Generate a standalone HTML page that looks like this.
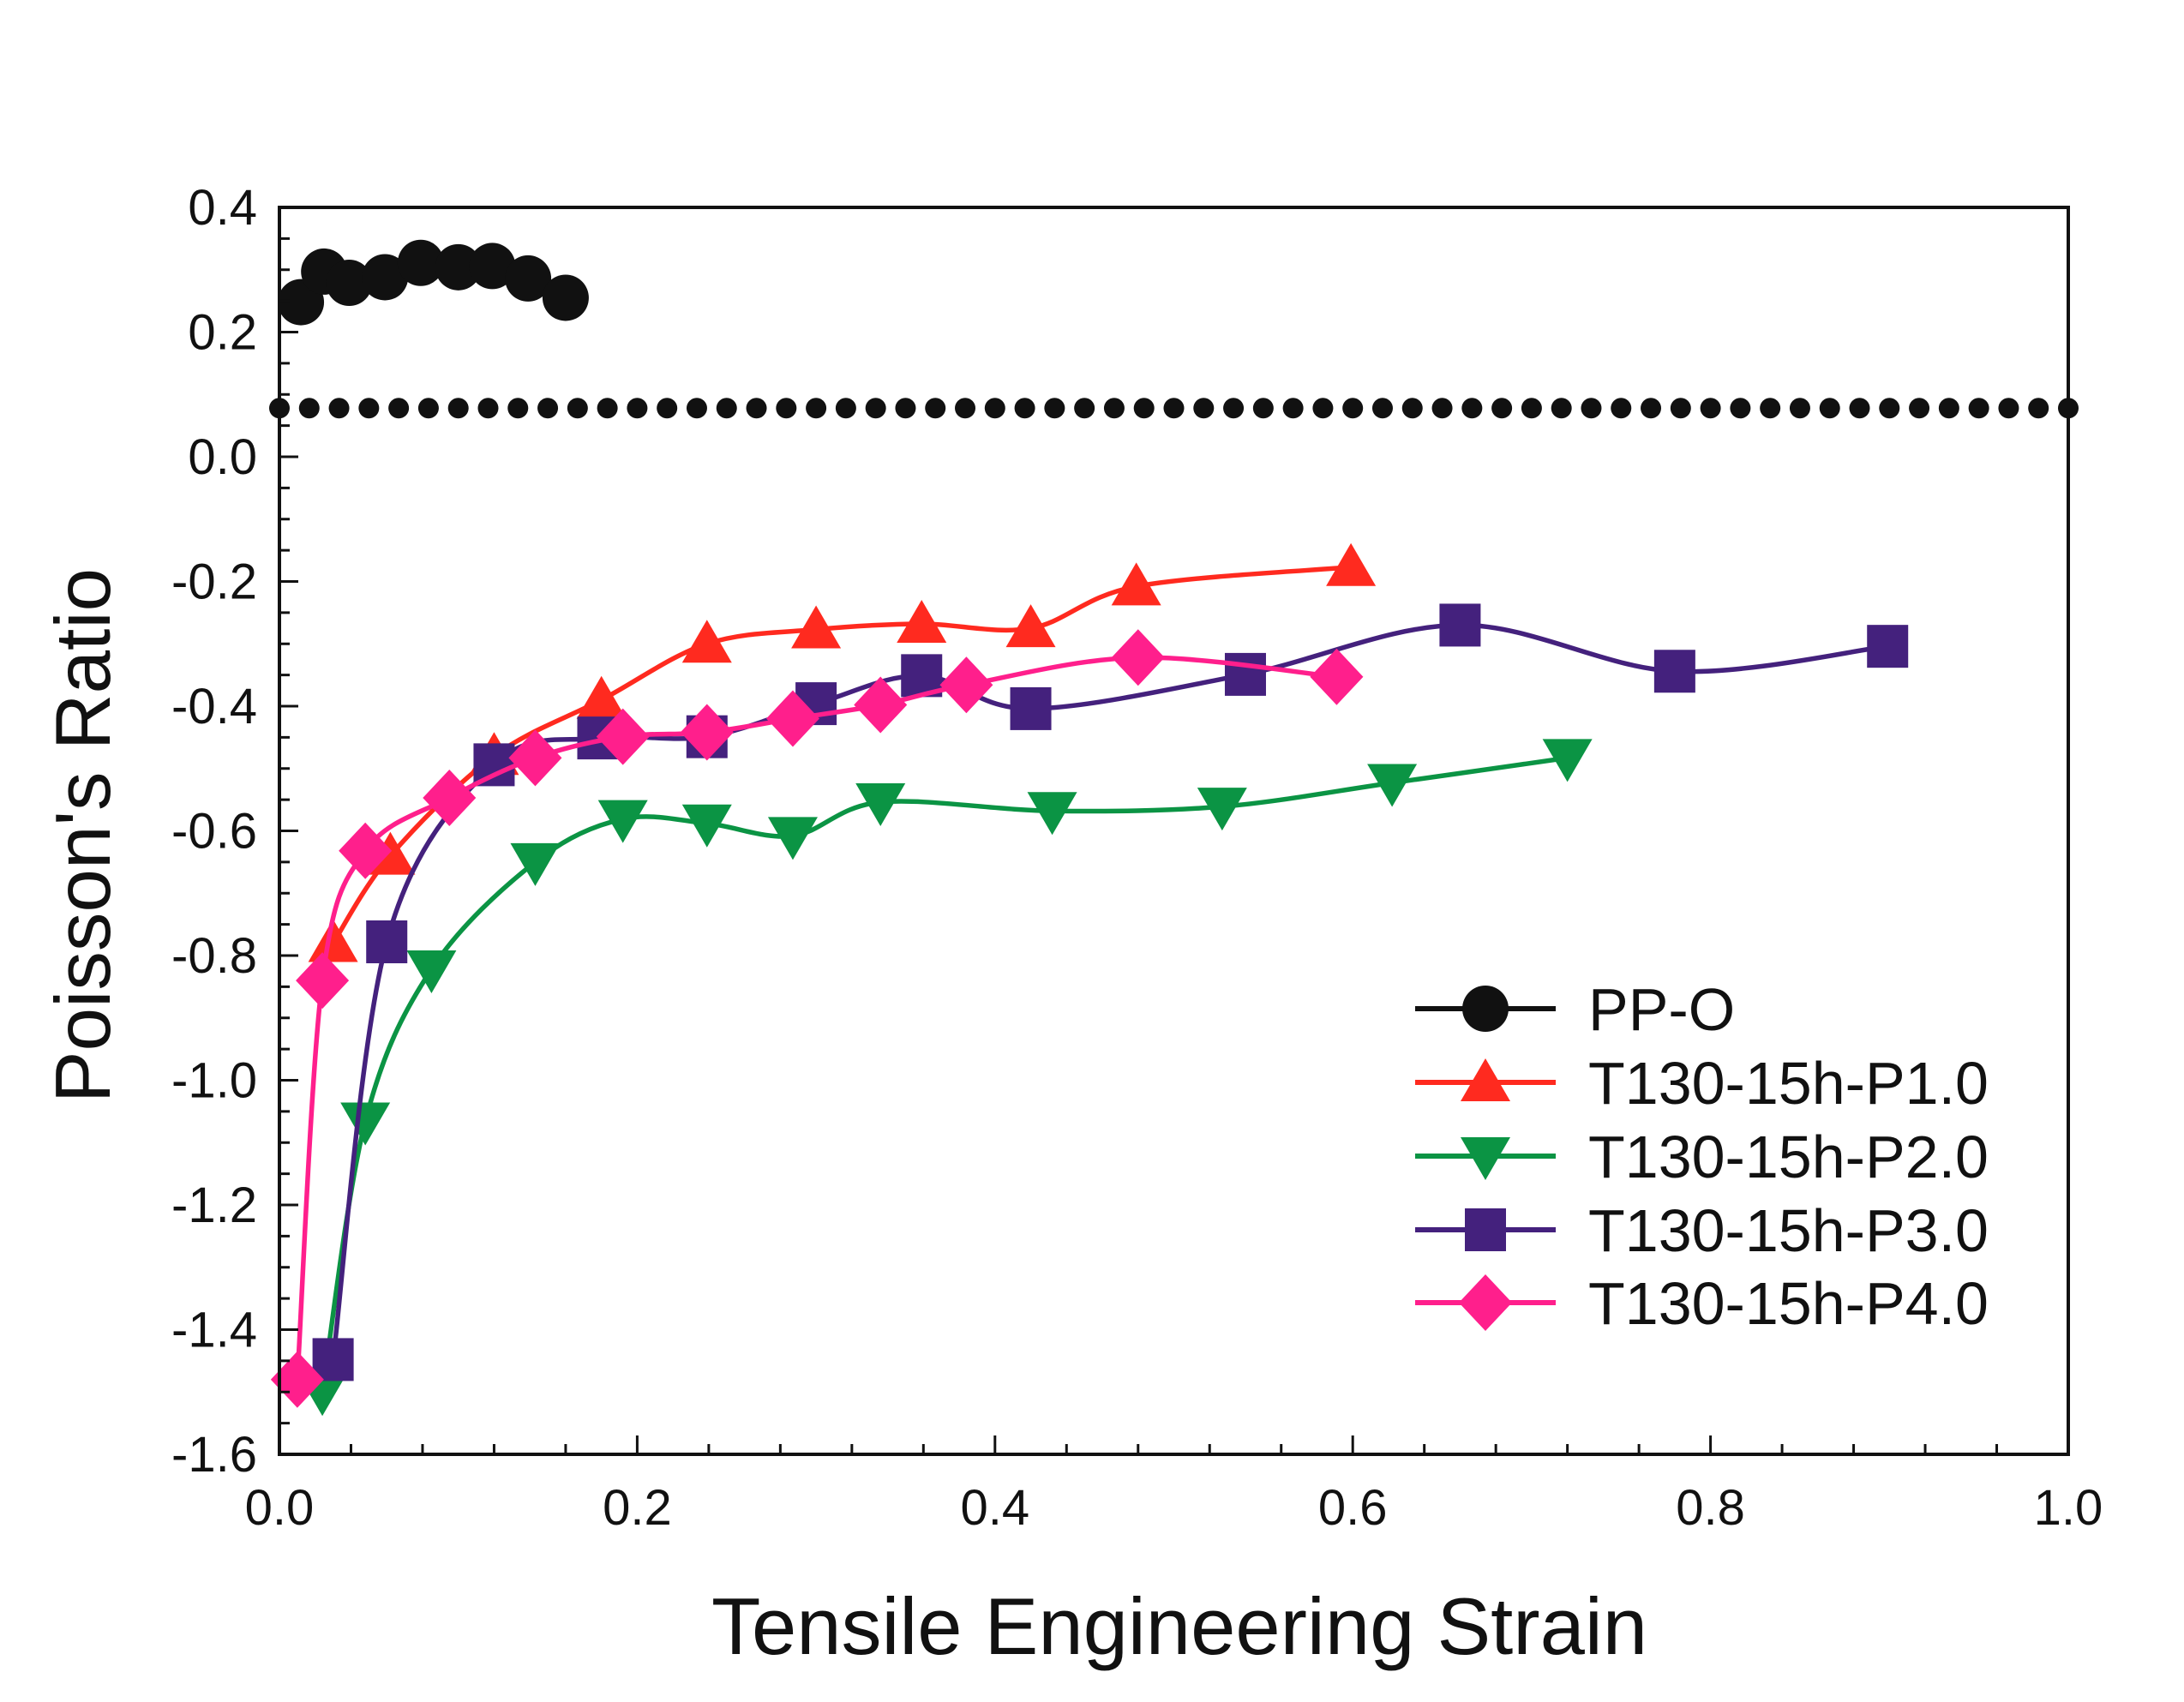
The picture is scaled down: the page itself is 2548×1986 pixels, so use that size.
<!DOCTYPE html>
<html><head><meta charset="utf-8"><style>
html,body{margin:0;padding:0;background:#fff;}
svg{display:block;font-family:"Liberation Sans",Arial,sans-serif;}
</style></head><body>
<svg id="chart" width="2548" height="1986" viewBox="0 0 2548 1986" xmlns="http://www.w3.org/2000/svg">
<rect width="2548" height="1986" fill="#fff"/>
<g id="plot"></g>
</svg>
<script>
const xTicks=[0,0.2,0.4,0.6,0.8,1.0];
const xTickLabels=["0.0","0.2","0.4","0.6","0.8","1.0"];
const yTicks=[0.4,0.2,0.0,-0.2,-0.4,-0.6,-0.8,-1.0,-1.2,-1.4,-1.6];
const yTickLabels=["0.4","0.2","0.0","-0.2","-0.4","-0.6","-0.8","-1.0","-1.2","-1.4","-1.6"];
const refLineY=0.078;
const ppoX=[0.012,0.025,0.039,0.059,0.079,0.100,0.119,0.139,0.160];
const ppoY=[0.248,0.297,0.279,0.288,0.311,0.304,0.306,0.286,0.255];
const p1X=[0.030,0.062,0.12,0.18,0.239,0.30,0.359,0.42,0.479,0.599];
const p1Y=[-0.78,-0.64,-0.48,-0.39,-0.30,-0.277,-0.268,-0.275,-0.208,-0.177];
const p2X=[0.024,0.048,0.085,0.143,0.192,0.239,0.287,0.336,0.432,0.527,0.622,0.72];
const p2Y=[-1.50,-1.066,-0.822,-0.65,-0.581,-0.588,-0.608,-0.554,-0.568,-0.561,-0.523,-0.483];
const p3X=[0.030,0.06,0.12,0.178,0.239,0.30,0.359,0.42,0.54,0.66,0.78,0.899];
const p3Y=[-1.448,-0.778,-0.494,-0.451,-0.449,-0.396,-0.351,-0.404,-0.349,-0.270,-0.344,-0.304];
const p4X=[0.010,0.024,0.048,0.095,0.143,0.192,0.239,0.287,0.336,0.384,0.48,0.591];
const p4Y=[-1.48,-0.84,-0.632,-0.547,-0.483,-0.449,-0.442,-0.42,-0.398,-0.366,-0.322,-0.353];
const seriesNames=["PP-O","T130-15h-P1.0","T130-15h-P2.0","T130-15h-P3.0","T130-15h-P4.0"];

const L=326,R=2413,T=242,B=1697;
const X=v=>L+v*(R-L);
const Y=v=>T+(0.4-v)*(B-T)/2.0;
const NS="http://www.w3.org/2000/svg";
const plot=document.getElementById('plot');
function mk(tag,attrs,parent){const e=document.createElementNS(NS,tag);for(const k in attrs)e.setAttribute(k,attrs[k]);(parent||plot).appendChild(e);return e;}

function smoothPath(px,py){
  const pts=px.map((x,i)=>[X(x),Y(py[i])]);
  let d="M"+pts[0][0]+","+pts[0][1];
  for(let i=0;i<pts.length-1;i++){
    const p0=pts[Math.max(0,i-1)],p1=pts[i],p2=pts[i+1],p3=pts[Math.min(pts.length-1,i+2)];
    const c1=[p1[0]+(p2[0]-p0[0])/6,p1[1]+(p2[1]-p0[1])/6];
    const c2=[p2[0]-(p3[0]-p1[0])/6,p2[1]-(p3[1]-p1[1])/6];
    d+=" C"+c1[0]+","+c1[1]+" "+c2[0]+","+c2[1]+" "+p2[0]+","+p2[1];
  }
  return d;
}
function marker(shape,cx,cy,color,parent){
  let e;
  if(shape==="circle"){e=mk('circle',{cx:cx,cy:cy,r:27,fill:color},parent);}
  else if(shape==="up"){e=mk('polygon',{points:`${cx},${cy-28} ${cx-29},${cy+22} ${cx+29},${cy+22}`,fill:color},parent);}
  else if(shape==="down"){e=mk('polygon',{points:`${cx},${cy+28} ${cx-29},${cy-22} ${cx+29},${cy-22}`,fill:color},parent);}
  else if(shape==="square"){e=mk('rect',{x:cx-24,y:cy-25,width:48,height:50,fill:color},parent);}
  else {e=mk('polygon',{points:`${cx},${cy-33} ${cx+31},${cy} ${cx},${cy+33} ${cx-31},${cy}`,fill:color},parent);}
  return e;
}

const ref=mk('g',{});


for(let i=0;i<=60;i++){
  mk('circle',{cx:L+i*(R-L)/60,cy:Y(refLineY),r:12,fill:"#111"},ref);
}

const series=[
 {x:ppoX,y:ppoY,color:"#111",shape:"circle",line:false,name:"pp-o"},
 {x:p1X,y:p1Y,color:"#ff2a1f",shape:"up",line:true,name:"p1"},
 {x:p2X,y:p2Y,color:"#0b9444",shape:"down",line:true,name:"p2"},
 {x:p3X,y:p3Y,color:"#44217d",shape:"square",line:true,name:"p3"},
 {x:p4X,y:p4Y,color:"#ff1f8c",shape:"diamond",line:true,name:"p4"}
];
series.forEach(s=>{
  const g=mk('g',{});
  
  
  if(s.line){
    const p=mk('path',{d:smoothPath(s.x,s.y),fill:"none",stroke:s.color,"stroke-width":5.5},g);
    
    
  }
  s.x.forEach((xv,i)=>{
    const m=marker(s.shape,X(xv),Y(s.y[i]),s.color,g);
    
    
  });
});

const frame=mk('rect',{x:L,y:T,width:R-L,height:B-T,fill:"none",stroke:"#111","stroke-width":4});



for(let i=0;i<=25;i++){
  const v=i*0.04;const major=(i%5===0);
  const t=mk('line',{x1:X(v),x2:X(v),y1:B,y2:B-(major?22:12),stroke:"#111","stroke-width":3});
  
  
}
xTicks.forEach((v,i)=>{
  const t=mk('text',{x:X(v),y:1779,"font-size":58,"text-anchor":"middle",fill:"#111"});
  t.textContent=xTickLabels[i];
  
  
});
for(let i=0;i<=40;i++){
  const v=0.4-i*0.05;const major=(i%4===0);
  const t=mk('line',{x1:L,x2:L+(major?22:12),y1:Y(v),y2:Y(v),stroke:"#111","stroke-width":3});
  
  
}
yTicks.forEach((v,i)=>{
  const t=mk('text',{x:300,y:Y(v)+20,"font-size":58,"text-anchor":"end",fill:"#111"});
  t.textContent=yTickLabels[i];
  
  
});

const xt=mk('text',{x:1376,y:1930,"font-size":94,"text-anchor":"middle",fill:"#111"});
xt.textContent="Tensile Engineering Strain";


const yt=mk('text',{x:0,y:0,"font-size":91,"text-anchor":"middle",fill:"#111",transform:"translate(128,975) rotate(-90)"});
yt.textContent="Poisson's Ratio";



const legend=mk('g',{});


const rowsY=[1177,1263,1349,1435,1520];
series.forEach((s,i)=>{
  const g=mk('g',{},legend);
  
  
  mk('line',{x1:1651,x2:1815,y1:rowsY[i],y2:rowsY[i],stroke:s.color,"stroke-width":6},g);
  marker(s.shape,1733,rowsY[i],s.color,g);
  const t=mk('text',{x:1853,y:rowsY[i]+25,"font-size":70,fill:"#111"},g);
  t.textContent=seriesNames[i];
});
</script>
</body></html>
